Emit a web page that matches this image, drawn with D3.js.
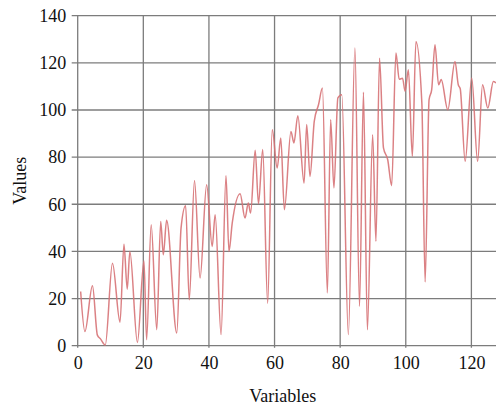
<!DOCTYPE html>
<html>
<head>
<meta charset="utf-8">
<script src="https://cdn.jsdelivr.net/npm/d3@7"></script>
<style>
  body { margin: 0; background: #fff; }
  svg text { font-family: "Liberation Serif", "Times New Roman", serif; fill: #111; }
</style>
</head>
<body>
<div id="vis"></div>
<script>
// values (x position, value)
var xVals = [0.9, 2.2, 4.5, 6.0, 7.0, 8.4, 10.6, 12.9, 14.1, 15.1, 15.9, 18.2, 20.2, 21.0, 22.4, 24.1, 25.3, 26.1, 27.1, 30.2,
  31.5, 32.9, 34.0, 35.6, 37.3, 39.3, 41.0, 41.9, 43.7, 45.2, 46.1, 47.1, 49.5, 51.0, 52.0, 52.7, 54.1, 55.1, 56.4, 57.9,
  59.3, 60.8, 61.9, 63.0, 65.0, 65.9, 67.1, 69.0, 69.8, 70.8, 72.1, 73.4, 74.6, 76.1, 77.1, 78.1, 79.3, 80.5, 82.5, 84.5,
  85.9, 87.1, 88.3, 89.9, 90.9, 92.0, 93.2, 94.5, 95.7, 97.0, 98.0, 99.0, 99.8, 100.8, 102.0, 103.1, 104.9, 105.9, 107.1, 107.9,
  108.9, 110.0, 110.8, 112.8, 115.0, 116.0, 116.6, 118.1, 120.1, 121.9, 123.4, 125.0, 126.7, 127.5];
var yVals = [23, 6, 25.4, 4.5, 2.8, 0.3, 35, 10, 43, 24, 40, 1.4, 36, 2.5, 51.3, 6.8, 52.7, 38.6, 53.2, 5.4,
  49.9, 59.4, 19.5, 70.1, 28.7, 68.3, 42.1, 55.6, 4.7, 72.1, 40, 52, 64.5, 54.2, 60.5, 56.3, 82.9, 60.2, 83.2, 18,
  91.6, 75.4, 88.1, 57.7, 90.9, 86, 97.6, 69, 93.8, 71.8, 95.2, 102.2, 109.3, 22.4, 95.9, 66.9, 105.1, 106.5, 4.7, 126.3,
  16.7, 107.5, 6.8, 89.5, 44.3, 122, 83.9, 78.9, 67.9, 124.2, 113, 113.5, 107.9, 117.1, 80.3, 129.1, 103, 27, 104.4, 108.6,
  127.7, 110.7, 112.9, 100.1, 120.6, 110.7, 109, 78.2, 113.6, 78.2, 110.7, 100.8, 112.1, 111.5];
var xTicks = [0, 20, 40, 60, 80, 100, 120];
var yTicks = [0, 20, 40, 60, 80, 100, 120, 140];

var data = xVals.map(function(x, i){ return {x: x, y: yVals[i]}; });

var width  = 496;
var height = 409;
var margin = {top: 15.7, right: 0, bottom: 63.3, left: 77.7};
var innerW = width - margin.left - margin.right;
var innerH = height - margin.top - margin.bottom;
var serif = '"Liberation Serif", "Times New Roman", serif';

var svg = d3.select('#vis')
  .append('svg')
  .attr('width', width)
  .attr('height', height);

var chartGroup = svg.append('g')
  .attr('transform', 'translate(' + margin.left + ',' + margin.top + ')');

var xScale = d3.scaleLinear()
  .domain([0, 127.5])
  .range([0, innerW]);

var yScale = d3.scaleLinear()
  .domain([0, 140])
  .range([innerH, 0]);

// grid
chartGroup.append('g')
  .selectAll('line')
  .data(yTicks)
  .enter().append('line')
  .attr('x1', -6).attr('x2', innerW)
  .attr('y1', function(d){ return yScale(d); })
  .attr('y2', function(d){ return yScale(d); })
  .attr('stroke', '#7c7c7c')
  .attr('stroke-width', 1.3);

chartGroup.append('g')
  .selectAll('line')
  .data(xTicks)
  .enter().append('line')
  .attr('x1', function(d){ return xScale(d); })
  .attr('x2', function(d){ return xScale(d); })
  .attr('y1', 0).attr('y2', innerH + 2)
  .attr('stroke', '#7c7c7c')
  .attr('stroke-width', 1.3);

// axes (labels only, lines come from grid)
var xAxis = d3.axisBottom(xScale).tickValues(xTicks).tickSize(0).tickPadding(11);
var gx = chartGroup.append('g')
  .attr('transform', 'translate(0,' + innerH + ')')
  .call(xAxis)
  .attr('font-family', serif)
  .attr('font-size', 18);
gx.select('.domain').remove();
gx.selectAll('text').attr('fill', '#111');

var yAxis = d3.axisLeft(yScale).tickValues(yTicks).tickSize(0).tickPadding(11.5);
var gy = chartGroup.append('g')
  .call(yAxis)
  .attr('font-family', serif)
  .attr('font-size', 18);
gy.select('.domain').remove();
gy.selectAll('text').attr('fill', '#111');

// line
var line = d3.line()
  .x(function(d){ return xScale(d.x); })
  .y(function(d){ return yScale(d.y); })
  .curve(d3.curveMonotoneX);

chartGroup.append('path')
  .attr('d', line(data))
  .attr('fill', 'none')
  .attr('stroke', '#d77377')
  .attr('stroke-opacity', 0.9)
  .attr('stroke-width', 1.5)
  .attr('stroke-linejoin', 'round');

// axis titles
chartGroup.append('text')
  .attr('x', 205)
  .attr('y', innerH + 56)
  .attr('text-anchor', 'middle')
  .style('font-size', '18px')
  .text('Variables');

chartGroup.append('text')
  .attr('transform', 'rotate(-90)')
  .attr('x', -(innerH / 2))
  .attr('y', -52)
  .attr('text-anchor', 'middle')
  .style('font-size', '18px')
  .text('Values');
</script>
</body>
</html>
